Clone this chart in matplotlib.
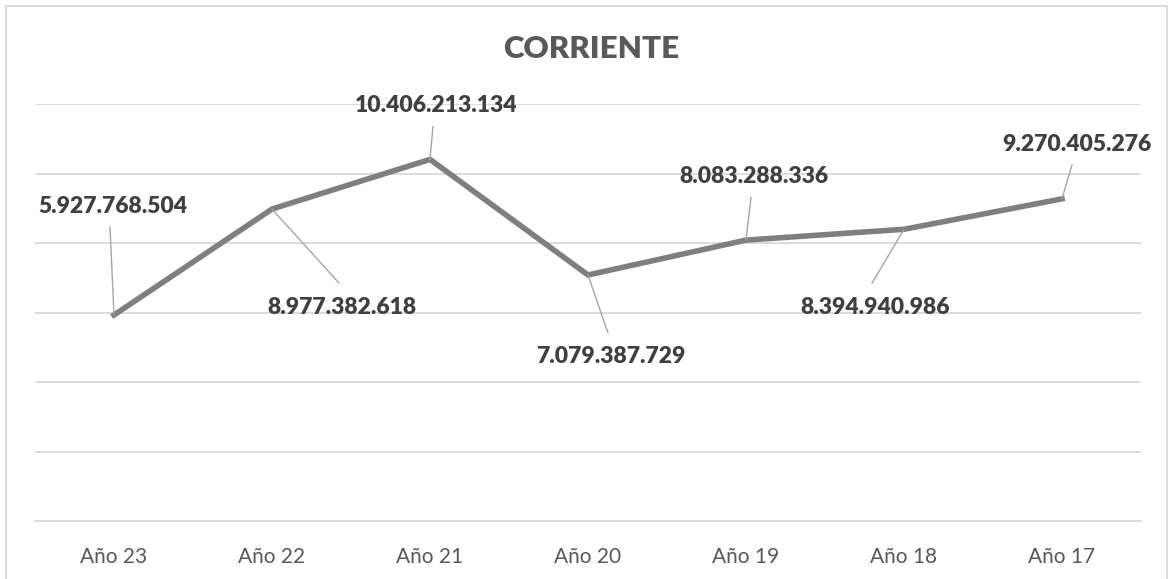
import matplotlib.pyplot as plt
from matplotlib.patches import Rectangle

# chart data
years = ['Año 23', 'Año 22', 'Año 21', 'Año 20', 'Año 19', 'Año 18', 'Año 17']
values = [5927768504, 8977382618, 10406213134, 7079387729, 8083288336, 8394940986, 9270405276]

# label / leader line offsets from each point (pixels)
label_offsets = [(-1, 109), (70, -98), (6, 54), (23, -82), (8, 64), (-29, -78), (15, 54)]
leader_offsets = [(-4, 88), (67, -74), (3, 33), (20, -58), (5, 43), (-32, -54), (10, 34)]

W, H = 1170, 579
fig = plt.figure(figsize=(W / 100, H / 100), dpi=100, facecolor='white')
ax = fig.add_axes([35 / W, 58 / H, (1141 - 35) / W, 417 / H])

grid_color = '#d9d9d9'
ax.set_xlim(-0.5, len(years) - 0.5)
ax.set_ylim(0, 12e9)
ax.set_yticks([i * 2e9 for i in range(7)])
ax.yaxis.grid(True, color=grid_color, lw=1.3)
ax.set_axisbelow(True)
ax.tick_params(axis='y', left=False, labelleft=False)
ax.tick_params(axis='x', bottom=False, pad=15, labelsize=15, labelcolor='#595959')
for side in ['top', 'left', 'right']:
    ax.spines[side].set_visible(False)
ax.spines['bottom'].set_color(grid_color)
ax.spines['bottom'].set_linewidth(1.3)

x = list(range(len(years)))
ax.plot(x, values, color='#7f7f7f', lw=4, solid_joinstyle='miter', zorder=3)
ax.set_xticks(x)
ax.set_xticklabels(years, fontfamily='Lato')

for i, v in enumerate(values):
    ax.annotate('', xy=(i, v), xytext=leader_offsets[i], textcoords='offset pixels',
                arrowprops=dict(arrowstyle='-', color='#a6a6a6', lw=1, shrinkA=0, shrinkB=0),
                zorder=4)
    label = f'{v:,}'.replace(',', '.')
    ax.annotate(label, xy=(i, v), xytext=label_offsets[i], textcoords='offset pixels',
                ha='center', va='center', fontsize=16.5, fontweight='heavy',
                color='#404040', fontfamily='Lato', zorder=5)

fig.text(591 / W, 1 - 49 / H, 'CORRIENTE', ha='center', va='center', fontsize=22.5,
         fontweight='heavy', color='#595959', fontfamily='Lato')

fig.patches.append(Rectangle((6 / W, -0.01), (1167 - 6) / W, 1.01 - 6 / H,
                             transform=fig.transFigure, fill=False,
                             edgecolor=grid_color, lw=1.3))

fig.savefig('out.png', dpi=100, facecolor='white')
